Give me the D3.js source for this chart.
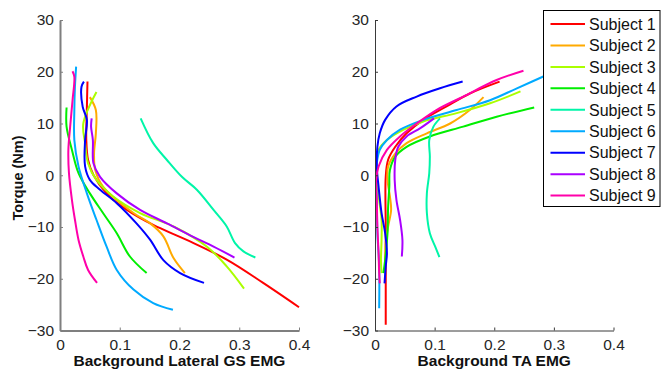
<!DOCTYPE html>
<head>
  <meta charset="utf-8">
  <title>torque-emg</title>
</head>
<style>
body { margin: 0; background: #fff; }
svg { font-family: "Liberation Sans", Arial, sans-serif; }
.tick text { fill: #262626; }
</style>
<svg width="661" height="370"></svg>
<script src="https://d3js.org/d3.v7.min.js"></script>
<script>
var subjects = ["Subject 1", "Subject 2", "Subject 3", "Subject 4", "Subject 5",
                "Subject 6", "Subject 7", "Subject 8", "Subject 9"];
var colors = ["#ff0000", "#ffaa00", "#aaff00", "#00ee00", "#00f5a8",
              "#00aaff", "#0000ff", "#aa00ff", "#ff00aa"];

var xTicks = [0, 0.1, 0.2, 0.3, 0.4];
var yTicks = [-30, -20, -10, 0, 10, 20, 30];

// [emg, torque] pairs, background lateral GS EMG
var gsCurves = [
  [[0.046,18.1],[0.045,13.2],[0.044,6.8],[0.047,2.95],[0.056,0.06],[0.078,-3.5],[0.112,-6.7],[0.156,-9.6],[0.212,-12.5],[0.279,-16.3],[0.340,-20.8],[0.400,-25.5]],
  [[0.050,15.1],[0.060,12.6],[0.060,8.1],[0.057,4.2],[0.059,1.0],[0.072,-2.2],[0.123,-7.3],[0.151,-9.3],[0.173,-11.8],[0.190,-16.0],[0.209,-18.9]],
  [[0.061,16.1],[0.039,10.0],[0.042,6.2],[0.047,2.3],[0.061,-0.9],[0.089,-4.1],[0.134,-7.3],[0.190,-9.9],[0.246,-13.8],[0.279,-17.6],[0.308,-21.9]],
  [[0.011,13.1],[0.011,9.4],[0.020,4.9],[0.031,0.4],[0.050,-3.5],[0.072,-7.3],[0.095,-11.2],[0.117,-15.7],[0.145,-18.9]],
  [[0.135,11.0],[0.156,6.2],[0.179,2.95],[0.204,-0.3],[0.229,-2.8],[0.257,-6.7],[0.279,-9.9],[0.293,-13.1],[0.307,-14.7],[0.327,-15.9]],
  [[0.027,21.0],[0.025,17.1],[0.024,12.6],[0.024,6.8],[0.031,1.7],[0.045,-3.5],[0.061,-8.6],[0.078,-13.8],[0.095,-18.3],[0.123,-22.1],[0.156,-24.7],[0.189,-26.0]],
  [[0.040,18.1],[0.036,17.1],[0.038,13.2],[0.045,10.7],[0.042,6.8],[0.042,1.7],[0.050,-0.9],[0.067,-2.8],[0.095,-5.4],[0.128,-9.3],[0.151,-12.5],[0.173,-16.4],[0.201,-18.9],[0.241,-20.8]],
  [[0.053,11.0],[0.052,9.4],[0.055,6.8],[0.056,2.3],[0.067,-0.3],[0.095,-3.5],[0.134,-6.7],[0.179,-9.3],[0.223,-11.9],[0.257,-13.8],[0.292,-15.9]],
  [[0.021,20.1],[0.024,19.0],[0.021,14.5],[0.017,9.4],[0.014,4.9],[0.015,0.4],[0.020,-4.8],[0.025,-8.6],[0.031,-12.5],[0.039,-15.7],[0.047,-18.3],[0.062,-20.8]]
];

// [emg, torque] pairs, background TA EMG
var taCurves = [
  [[0.209,18.1],[0.159,15.8],[0.120,13.3],[0.081,10.7],[0.053,8.1],[0.034,5.5],[0.022,3.0],[0.018,-0.3],[0.018,-10],[0.018,-20],[0.018,-28.9]],
  [[0.182,15.1],[0.159,12.6],[0.126,10.0],[0.087,8.1],[0.053,6.2],[0.034,4.2],[0.022,1.7],[0.021,-0.9],[0.025,-4.1],[0.027,-6.7],[0.022,-9.9],[0.018,-13.1],[0.017,-17.0],[0.017,-18.9]],
  [[0.244,16.2],[0.193,13.9],[0.137,12.0],[0.081,10.4],[0.048,8.8],[0.020,6.8],[0.006,4.9],[0.002,2.3],[0.003,-0.9],[0.007,-4.8],[0.011,-8.6],[0.011,-12.5],[0.010,-16.4],[0.011,-18.9]],
  [[0.267,13.1],[0.204,11.3],[0.148,9.4],[0.092,7.5],[0.053,5.5],[0.034,3.6],[0.025,1.0],[0.024,-2.2],[0.022,-6.1],[0.021,-11.2],[0.017,-16.4],[0.014,-18.9]],
  [[0.109,11.0],[0.098,9.4],[0.091,6.8],[0.092,3.6],[0.091,0.4],[0.087,-3.5],[0.087,-7.3],[0.092,-11.2],[0.101,-13.8],[0.108,-15.8]],
  [[0.300,20.0],[0.238,16.8],[0.193,14.5],[0.137,12.6],[0.081,10.7],[0.042,8.8],[0.020,6.8],[0.008,4.9],[0.003,2.3],[0.002,-0.9],[0.003,-4.8],[0.004,-11.2],[0.007,-17.6],[0.007,-25.7]],
  [[0.147,18.1],[0.109,16.8],[0.070,15.2],[0.036,13.3],[0.017,10.7],[0.008,8.1],[0.004,5.5],[0.003,1.7],[0.006,-2.2],[0.011,-7.3],[0.017,-11.2],[0.020,-15.1],[0.018,-17.6],[0.016,-20.9]],
  [[0.099,11.0],[0.076,9.1],[0.053,7.5],[0.039,5.5],[0.034,3.0],[0.033,-0.9],[0.036,-4.8],[0.042,-8.6],[0.046,-12.5],[0.045,-15.7]],
  [[0.249,20.2],[0.204,18.4],[0.148,15.2],[0.103,12.6],[0.070,10.0],[0.042,7.5],[0.020,4.9],[0.006,1.7],[0.002,-0.9],[0.003,-4.8],[0.004,-9.9],[0.006,-15.1],[0.007,-18.9],[0.008,-20.9]]
];

var svg = d3.select("svg");

var y = d3.scaleLinear().domain([-30, 30]).range([330.5, 20]);

function drawPanel(left, right, curves, label, axisColor, axisWidth) {
  var x = d3.scaleLinear().domain([0, 0.4]).range([left, right]);
  var g = svg.append("g");

  var line = d3.line()
      .x(function(d) { return x(d[0]); })
      .y(function(d) { return y(d[1]); })
      .curve(d3.curveCatmullRom.alpha(0.5));

  g.selectAll("path.curve")
    .data(curves)
    .enter().append("path")
      .attr("class", "curve")
      .attr("fill", "none")
      .attr("stroke", function(d, i) { return colors[i]; })
      .attr("stroke-width", 2)
      .attr("d", line);

  var xAxis = g.append("g")
      .attr("transform", "translate(0," + y(-30) + ")")
      .call(d3.axisBottom(x).tickValues(xTicks).tickFormat(d3.format("")).tickSizeInner(-3).tickSizeOuter(0).tickPadding(8));
  var yAxis = g.append("g")
      .attr("transform", "translate(" + left + ",0)")
      .call(d3.axisLeft(y).tickValues(yTicks).tickSizeInner(-3).tickSizeOuter(0).tickPadding(6));

  [xAxis, yAxis].forEach(function(a) {
    a.select(".domain").attr("stroke", axisColor).attr("stroke-width", axisWidth);
    a.selectAll(".tick line").attr("stroke", axisColor);
    a.selectAll(".tick text").attr("font-size", 15.5).attr("font-family", "Liberation Sans, Arial, sans-serif");
  });

  g.append("text")
    .attr("x", (left + right) / 2)
    .attr("y", 366)
    .attr("text-anchor", "middle")
    .attr("font-weight", "bold")
    .attr("font-size", 15.5)
    .attr("fill", "#111")
    .text(label);
}

drawPanel(60, 299, gsCurves, "Background Lateral GS EMG", "#7f7f7f", 2);
drawPanel(375, 613.5, taCurves, "Background TA EMG", "#3a3a3a", 1);

svg.append("text")
  .attr("transform", "translate(23,178) rotate(-90)")
  .attr("text-anchor", "middle")
  .attr("font-weight", "bold")
  .attr("font-size", 14.5)
  .attr("fill", "#111")
  .text("Torque (Nm)");

// legend
var legend = svg.append("g");
legend.append("rect")
  .attr("x", 543.5).attr("y", 10.5)
  .attr("width", 116.5).attr("height", 196)
  .attr("fill", "#fff").attr("stroke", "#000").attr("stroke-width", 1);

var rows = legend.selectAll("g.row")
  .data(subjects)
  .enter().append("g")
    .attr("class", "row")
    .attr("transform", function(d, i) { return "translate(0," + (24 + i * 21.45) + ")"; });

rows.append("line")
  .attr("x1", 550.5).attr("x2", 585)
  .attr("stroke", function(d, i) { return colors[i]; })
  .attr("stroke-width", 2);

rows.append("text")
  .attr("x", 589)
  .attr("dy", "0.36em")
  .attr("font-size", 16)
  .attr("fill", "#111")
  .text(function(d) { return d; });
</script>
